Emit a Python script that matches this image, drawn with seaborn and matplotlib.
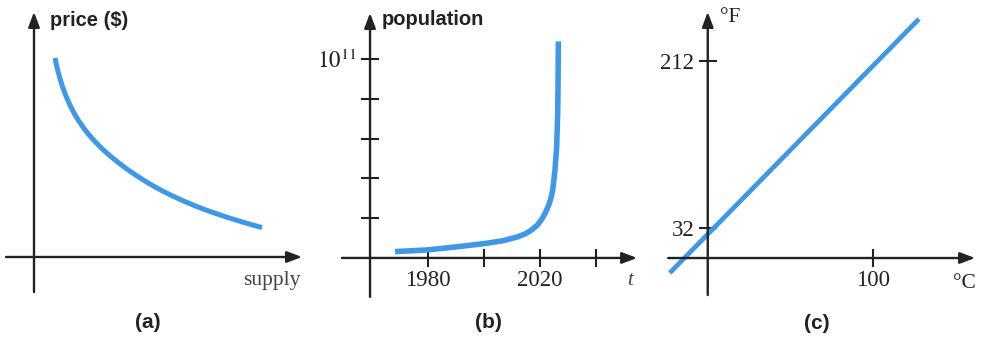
import matplotlib
matplotlib.use('Agg')
import matplotlib.pyplot as plt
import seaborn as sns

sns.set_style('white')
plt.rcParams['font.family'] = ['Liberation Serif', 'DejaVu Serif']
plt.rcParams['mathtext.fontset'] = 'stix'

# --- (a) price vs supply, arbitrary units ---
supply = [21, 22.5, 24, 26.5, 29, 32.5, 36, 40, 44, 49, 54, 60, 66, 72, 79, 86, 94,
          102, 110, 119, 128, 138, 148, 159, 170, 182, 195, 211, 228]
price = [199, 192, 185.6, 176.7, 168.9, 159.6, 151.8, 144.0, 137.2, 129.9, 123.4, 116.5,
         110.3, 104.7, 98.7, 93.1, 87.2, 81.7, 76.6, 71.2, 66.3, 61.3, 56.7, 52.0, 47.7,
         43.4, 39.1, 34.2, 29.4]

# --- (b) population vs year ---
years = [1968.4, 1979.6, 1989.7, 2000, 2006.9, 2012.2, 2014.8, 2017.0, 2019.0, 2020.6,
         2021.8, 2022.9, 2023.8, 2024.5, 2025.3, 2025.9, 2026.26, 2026.4, 2026.5]
population = [0.32e10, 0.40e10, 0.55e10, 0.72e10, 0.87e10, 1.07e10, 1.22e10, 1.41e10,
              1.65e10, 1.95e10, 2.25e10, 2.6e10, 2.98e10, 3.42e10, 4.43e10, 5.6e10,
              7.28e10, 8.96e10, 10.9e10]
year_ticks = [1980, 2000, 2020, 2040]
year_labels = ['1980', '', '2020', '']
pop_ticks = [2e10, 4e10, 6e10, 8e10, 10e10]
pop_labels = ['', '', '', '', r'$10^{11}$']

# --- (c) Fahrenheit vs Celsius ---
celsius = [-23, 128]
fahrenheit = [-16, 257]
c_ticks = [100]
f_ticks = [32, 212]

BLUE = '#3f97e8'
INK = '#222222'
W, H = 982, 338

fig = plt.figure(figsize=(9.82, 3.38), dpi=100)
ax_a = fig.add_axes([0, 0, 320 / W, 1])
ax_b = fig.add_axes([320 / W, 0, 330 / W, 1])
ax_c = fig.add_axes([650 / W, 0, 332 / W, 1])


def arrow_axes(ax, xo, yo, xspan, yspan):
    # axis lines with filled arrow heads, crossing at (xo, yo)
    props = dict(arrowstyle='-|>,head_length=0.45,head_width=0.17', color=INK,
                 lw=1.7, mutation_scale=20, shrinkA=0, shrinkB=0)
    ax.annotate('', xy=(xspan[1], yo), xytext=(xspan[0], yo), arrowprops=props)
    ax.annotate('', xy=(xo, yspan[1]), xytext=(xo, yspan[0]), arrowprops=props)
    for s in ax.spines.values():
        s.set_visible(False)
    ax.spines['left'].set_position(('data', xo))
    ax.spines['bottom'].set_position(('data', yo))
    ax.tick_params(axis='both', direction='inout', length=12.5, width=1.5,
                   colors=INK, labelsize=16.5, bottom=True, left=True,
                   top=False, right=False)
    ax.tick_params(axis='x', pad=2.5)
    ax.tick_params(axis='y', pad=3.5)
    ax.patch.set_alpha(0)


# (a)
sns.lineplot(x=supply, y=price, ax=ax_a, color=BLUE, linewidth=3.6,
             solid_capstyle='butt')
ax_a.set_xlim(-34, 286)
ax_a.set_ylim(-81, 257)
arrow_axes(ax_a, 0, 0, (-28, 268), (-35, 245))
ax_a.set_xticks([])
ax_a.set_yticks([])
ax_a.text(16, 236, 'price ($)', family='Liberation Sans', weight='bold',
          fontsize=14.5, color=INK, va='center', ha='left')
ax_a.text(267, -24, 'supply', fontsize=15.5, color='#444444', va='center', ha='right')
ax_a.text(114, -66, '(a)', family='Liberation Sans', weight='bold',
          fontsize=15, color=INK, va='center', ha='center')

# (b)
sns.lineplot(x=years, y=population, ax=ax_b, color=BLUE, linewidth=4,
             solid_capstyle='butt')
ax_b.set_xlim(1941.7, 2059.1)
ax_b.set_ylim(-4.03e10, 12.985e10)
arrow_axes(ax_b, 1959.5, 0, (1949.5, 2054.5), (-1.96e10, 12.33e10))
ax_b.set_xticks(year_ticks, year_labels)
ax_b.set_yticks(pop_ticks, pop_labels)
ax_b.text(1963.7, 11.98e10, 'population', family='Liberation Sans', weight='bold',
          fontsize=14.5, color=INK, va='center', ha='left')
ax_b.text(2052, -1.16e10, 't', style='italic', fontsize=15, color='#444444',
          va='center', ha='center')
ax_b.text(2001.5, -3.27e10, '(b)', family='Liberation Sans', weight='bold',
          fontsize=15, color=INK, va='center', ha='center')

# (c)
sns.lineplot(x=celsius, y=fahrenheit, ax=ax_c, color=BLUE, linewidth=3.4,
             solid_capstyle='butt')
ax_c.set_xlim(-35.0, 166.2)
ax_c.set_ylim(-86.0, 277.4)
arrow_axes(ax_c, 0, 0, (-24, 162), (-39.8, 264.5))
ax_c.set_xticks(c_ticks, [str(t) for t in c_ticks])
ax_c.set_yticks(f_ticks, [str(t) for t in f_ticks])
ax_c.text(7.5, 259, '°F', fontsize=15.5, color=INK, va='center', ha='left')
ax_c.text(148.6, -26.9, '°C', fontsize=15.5, color=INK, va='center', ha='left')
ax_c.text(66.2, -69.9, '(c)', family='Liberation Sans', weight='bold',
          fontsize=15, color=INK, va='center', ha='center')

fig.savefig('out.png', dpi=100, facecolor='white')
